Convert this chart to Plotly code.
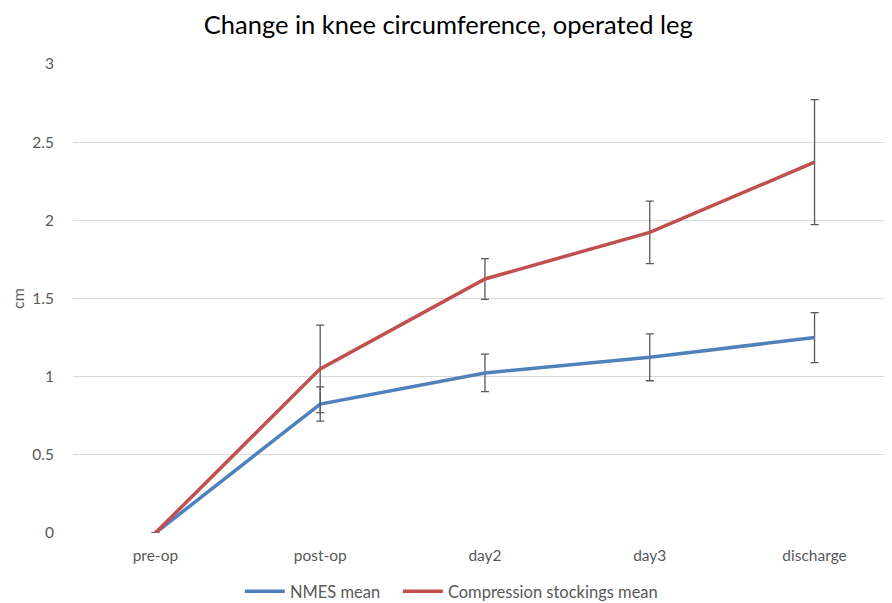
import plotly.graph_objects as go

categories = ["pre-op", "post-op", "day2", "day3", "discharge"]
nmes_mean = [0, 0.825, 1.024, 1.124, 1.25]
nmes_err = [0, 0.11, 0.12, 0.15, 0.16]
comp_mean = [0, 1.05, 1.625, 1.923, 2.372]
comp_err = [0, 0.28, 0.13, 0.20, 0.40]

FONT = "Lato"
GRAY = "#595959"

fig = go.Figure()
fig.add_trace(go.Scatter(
    x=categories, y=nmes_mean, mode="lines", name="NMES mean\u00a0\u00a0\u00a0",
    line=dict(color="#4F81BD", width=3.5),
    error_y=dict(type="data", array=nmes_err, visible=True, color=GRAY, thickness=1.3, width=4),
))
fig.add_trace(go.Scatter(
    x=categories, y=comp_mean, mode="lines", name="Compression stockings mean",
    line=dict(color="#C0504D", width=3.5),
    error_y=dict(type="data", array=comp_err, visible=True, color=GRAY, thickness=1.3, width=4),
))

# page body has an 8px margin, so the figure is shrunk/offset by 8px
fig.update_layout(
    width=884, height=595,
    paper_bgcolor="white", plot_bgcolor="white",
    margin=dict(l=65, r=0, t=56, b=70, autoexpand=False),
    title=dict(text="Change in knee circumference, operated leg", x=0.498, xanchor="center",
               y=1 - 17 / 595, yanchor="middle", font=dict(family=FONT, size=25.5, color="black")),
    font=dict(family=FONT, size=15.5, color=GRAY),
    xaxis=dict(type="category", range=[-0.5, 4.47], showgrid=False, showline=False, zeroline=False,
               ticks="outside", ticklen=8, tickcolor="rgba(0,0,0,0)",
               tickfont=dict(size=15.5, color=GRAY), automargin=False),
    yaxis=dict(range=[0, 3], dtick=0.5, showgrid=True, gridcolor="#D9D9D9", gridwidth=1,
               zeroline=False, showline=False, ticks="outside", ticklen=15, tickcolor="rgba(0,0,0,0)",
               tickfont=dict(size=15.5, color=GRAY), automargin=False,
               title=dict(text="cm", font=dict(size=16, color=GRAY), standoff=4)),
    legend=dict(orientation="h", x=0.462, xanchor="center", y=-0.125, yanchor="middle",
                font=dict(size=16.5, color=GRAY), itemwidth=40, tracegroupgap=0),
    showlegend=True,
)

fig.write_html("out.html")
